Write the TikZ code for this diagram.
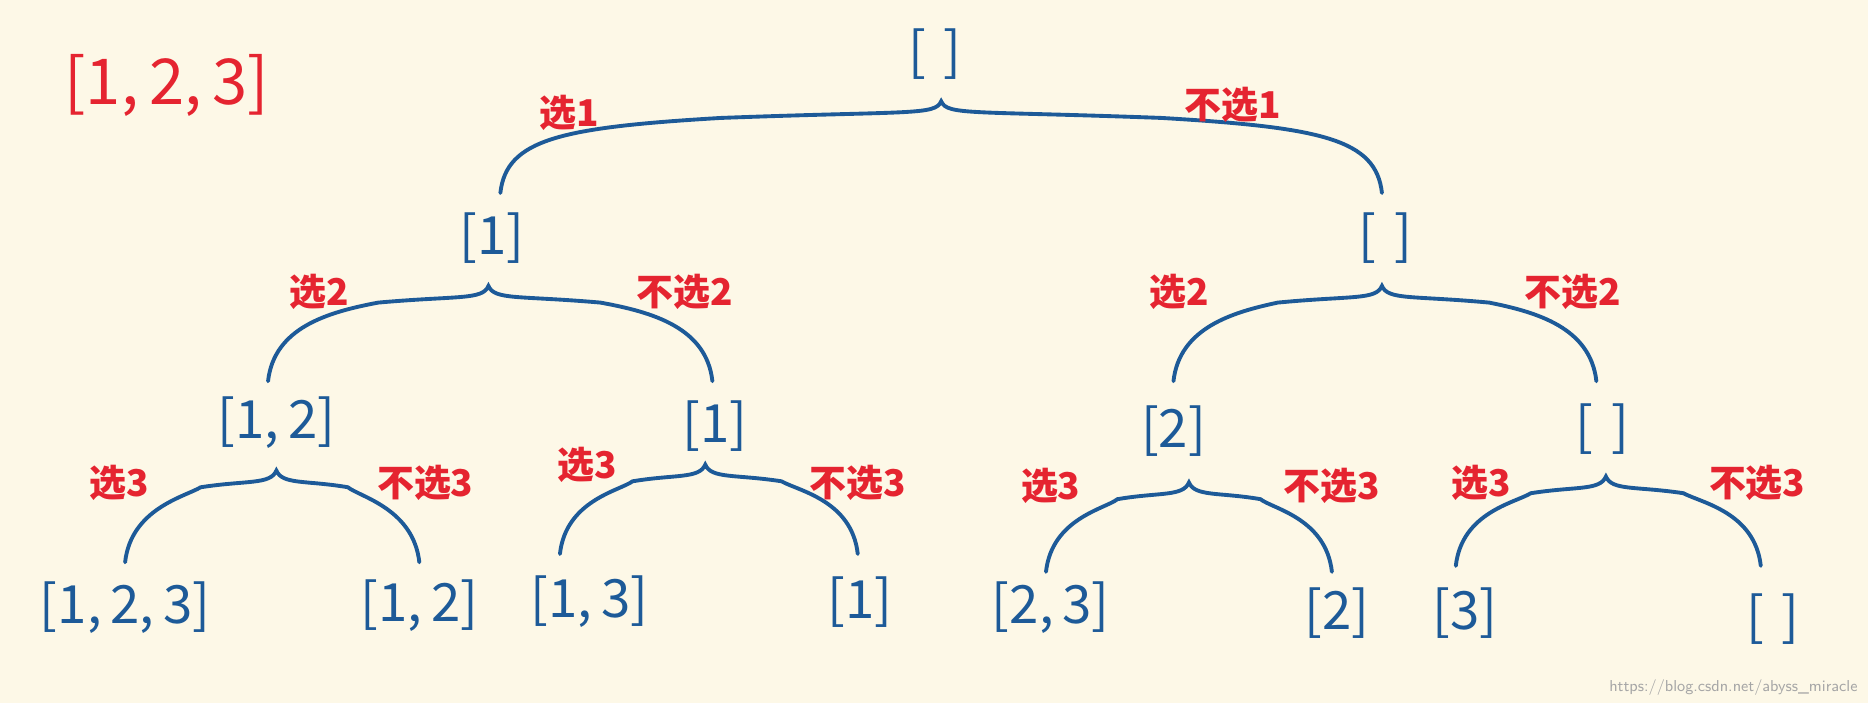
\documentclass[tikz,border=0pt]{standalone}
\usepackage{fontspec}
\newfontfamily\cjk{Noto Sans CJK SC}
\definecolor{bg}{HTML}{FDF8E7}
\definecolor{tb}{HTML}{1D5A98}
\definecolor{tr}{HTML}{E52430}
\tikzset{
 lst/.style={text=tb,font=\cjk\fontsize{30}{30}\selectfont},
 lab/.style={text=tr,font=\cjk\bfseries\fontsize{21}{21}\selectfont},
 brc/.style={draw=tb,line width=2.2pt,line cap=round}
}
% #1 xl, #2 xr, #3 xa, #4 ya (apex), #5 yb (ends)
\newcommand\mybrc[5]{%
 \coordinate (bl) at (#1,#5); \coordinate (br) at (#2,#5); \coordinate (ba) at (#3,#4);
 \draw[brc] (bl) .. controls ({#1+5},{#5-45}) and ({#1+50},{#4+22}) .. ({(#1+#3)/2},{#4+14})
   .. controls ({#3-25},{#4+8}) and ({#3-5},{#4+12}) .. (ba)
   .. controls ({#3+5},{#4+12}) and ({#3+25},{#4+8}) .. ({(#2+#3)/2},{#4+14})
   .. controls ({#2-50},{#4+22}) and ({#2-5},{#5-45}) .. (br);}
\begin{document}
\begin{tikzpicture}[x=0.02382cm,y=-0.02382cm]
\fill[bg] (0,0) rectangle (1568,590);
\useasboundingbox (0,0) rectangle (1568,590);
\node[text=tr,font=\cjk\fontsize{36}{36}\selectfont] (set) at (140,72) {[1,\,2,\,3]};
\node[lst] (r) at (785,45) {[\,\,]};
\mybrc{420}{1160}{790}{85}{162}
\node[lab] at (478,95) {选1};
\node[lab] at (1035,88) {不选1};
\node[lst] (a) at (413,200) {[1]};
\node[lst] (b) at (1163,200) {[\,\,]};
\mybrc{225}{598}{410}{240}{320}
\node[lab] at (268,245) {选2};
\node[lab] at (575,245) {不选2};
\mybrc{985}{1340}{1160}{240}{320}
\node[lab] at (990,245) {选2};
\node[lab] at (1320,245) {不选2};
\node[lst] (aa) at (232,355) {[1,\,2]};
\node[lst] (ab) at (600,358) {[1]};
\node[lst] (ba) at (985,362) {[2]};
\node[lst] (bb) at (1345,360) {[\,\,]};
\mybrc{105}{352}{232}{395}{472}
\node[lab] at (100,405) {选3};
\node[lab] at (357,405) {不选3};
\mybrc{470}{720}{592}{390}{465}
\node[lab] at (493,390) {选3};
\node[lab] at (720,405) {不选3};
\mybrc{878}{1118}{998}{405}{480}
\node[lab] at (882,408) {选3};
\node[lab] at (1118,408) {不选3};
\mybrc{1222}{1478}{1348}{400}{475}
\node[lab] at (1243,405) {选3};
\node[lab] at (1475,405) {不选3};
\node[lst] (l1) at (105,510) {[1,\,2,\,3]};
\node[lst] (l2) at (352,508) {[1,\,2]};
\node[lst] (l3) at (495,505) {[1,\,3]};
\node[lst] (l4) at (722,505) {[1]};
\node[lst] (l5) at (882,510) {[2,\,3]};
\node[lst] (l6) at (1122,515) {[2]};
\node[lst] (l7) at (1230,515) {[3]};
\node[lst] (l8) at (1488,520) {[\,\,]};
\node[text=gray!70,font=\sffamily\fontsize{9}{9}\selectfont] (wm) at (1455,577) {https://blog.csdn.net/abyss\_miracle};
\end{tikzpicture}
\end{document}
